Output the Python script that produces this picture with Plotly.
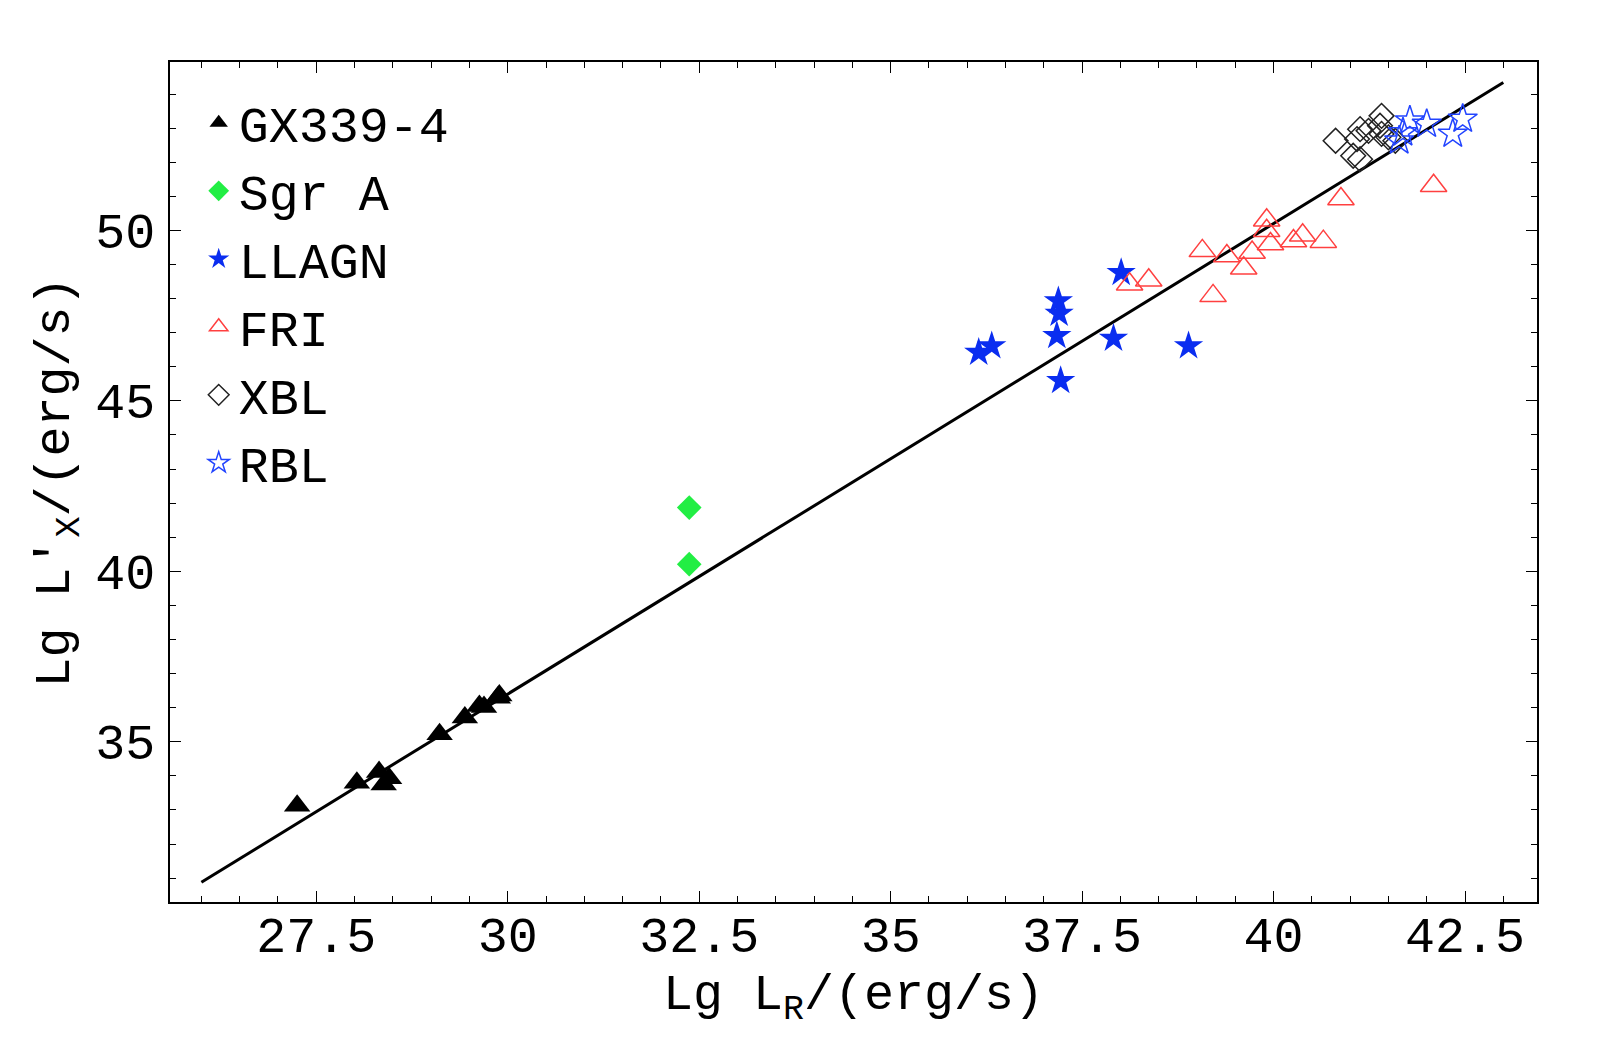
import plotly.graph_objects as go

# GX339-4 (filled black triangles)
gx_x = [27.25, 28.03, 28.32, 28.38, 28.45, 29.11, 29.44, 29.63, 29.69, 29.87, 29.89]
gx_y = [33.12, 33.80, 34.11, 33.75, 33.93, 35.22, 35.71, 36.05, 36.02, 36.29, 36.36]

# Sgr A (filled green diamonds)
sgr_x = [32.37, 32.37]
sgr_y = [41.87, 40.21]

# LLAGN (filled blue stars)
llagn_x = [36.15, 36.32, 37.19, 37.20, 37.17, 37.22, 37.91, 38.01, 38.89]
llagn_y = [46.42, 46.61, 47.93, 47.56, 46.91, 45.59, 46.83, 48.76, 46.61]

# FRI (open red triangles)
fri_x = [38.12, 38.37, 39.07, 39.21, 39.39, 39.61, 39.72, 39.91, 39.91, 39.96,
         40.26, 40.38, 40.65, 40.88, 42.09]
fri_y = [48.42, 48.54, 49.40, 48.08, 49.25, 48.89, 49.35, 50.30, 49.99, 49.60,
         49.69, 49.86, 49.67, 50.92, 51.31]

# XBL (open black diamonds)
xbl_x = [40.81, 41.13, 41.09, 41.04, 41.13, 41.41, 41.39, 41.41, 41.24, 41.50, 41.59]
xbl_y = [52.63, 52.97, 52.68, 52.19, 52.09, 53.36, 53.07, 52.83, 52.92, 52.73, 52.63]

# RBL (open blue stars)
rbl_x = [41.78, 42.00, 41.69, 41.64, 42.47, 42.34]
rbl_y = [53.22, 53.12, 52.87, 52.63, 53.27, 52.83]

# fitted relation
fit_x = [26.0, 43.0]
fit_y = [30.88, 54.34]

FONT = "Liberation Mono, Courier New, monospace"

fig = go.Figure()

fig.add_trace(go.Scatter(x=fit_x, y=fit_y, mode='lines', line=dict(color='black', width=3),
                         showlegend=False, hoverinfo='skip'))

fig.add_trace(go.Scatter(x=gx_x, y=gx_y, mode='markers', name='GX339-4',
                         marker=dict(symbol='triangle-up', size=23, color='black')))
fig.add_trace(go.Scatter(x=sgr_x, y=sgr_y, mode='markers', name='Sgr A',
                         marker=dict(symbol='diamond', size=19, color='#22ee44')))
fig.add_trace(go.Scatter(x=llagn_x, y=llagn_y, mode='markers', name='LLAGN',
                         marker=dict(symbol='star', size=22, color='#0a2df0')))
fig.add_trace(go.Scatter(x=fri_x, y=fri_y, mode='markers', name='FRI',
                         marker=dict(symbol='triangle-up-open', size=23, color='#ff4040',
                                     line=dict(width=1.5))))
fig.add_trace(go.Scatter(x=xbl_x, y=xbl_y, mode='markers', name='XBL',
                         marker=dict(symbol='diamond-open', size=19, color='#222222',
                                     line=dict(width=1.5))))
fig.add_trace(go.Scatter(x=rbl_x, y=rbl_y, mode='markers', name='RBL',
                         marker=dict(symbol='star-open', size=22, color='#2244ff',
                                     line=dict(width=1.5))))

axis_common = dict(showgrid=False, zeroline=False, showline=True, linecolor='black', linewidth=1.5,
                   mirror='allticks', ticks='inside', ticklen=11, tickwidth=1.2, tickcolor='black',
                   tickfont=dict(family=FONT, size=50, color='black'))

fig.update_xaxes(range=[25.59, 43.44], tick0=27.5, dtick=2.5,
                 minor=dict(dtick=0.5, ticks='inside', ticklen=6, tickcolor='black', tickwidth=1),
                 title=dict(text='Lg L<sub>R</sub>/(erg/s)', font=dict(family=FONT, size=50, color='black'),
                            standoff=0),
                 ticklabelstandoff=-12, **axis_common)
fig.update_yaxes(range=[30.3, 54.94], tick0=35, dtick=5,
                 minor=dict(dtick=1, ticks='inside', ticklen=6, tickcolor='black', tickwidth=1),
                 title=dict(text='Lg L\u2032<sub>X</sub>/(erg/s)', font=dict(family=FONT, size=50, color='black'),
                            standoff=10),
                 ticklabelstandoff=3, **axis_common)

fig.update_layout(width=1600, height=1040, plot_bgcolor='white', paper_bgcolor='white',
                  margin=dict(l=162, r=71, t=54, b=146),
                  font=dict(family=FONT, color='black'),
                  legend=dict(x=0.021, y=0.974, xanchor='left', yanchor='top', bgcolor='rgba(0,0,0,0)',
                              font=dict(family=FONT, size=50, color='black'), itemsizing='trace',
                              tracegroupgap=0))

fig.write_html("out.html")
